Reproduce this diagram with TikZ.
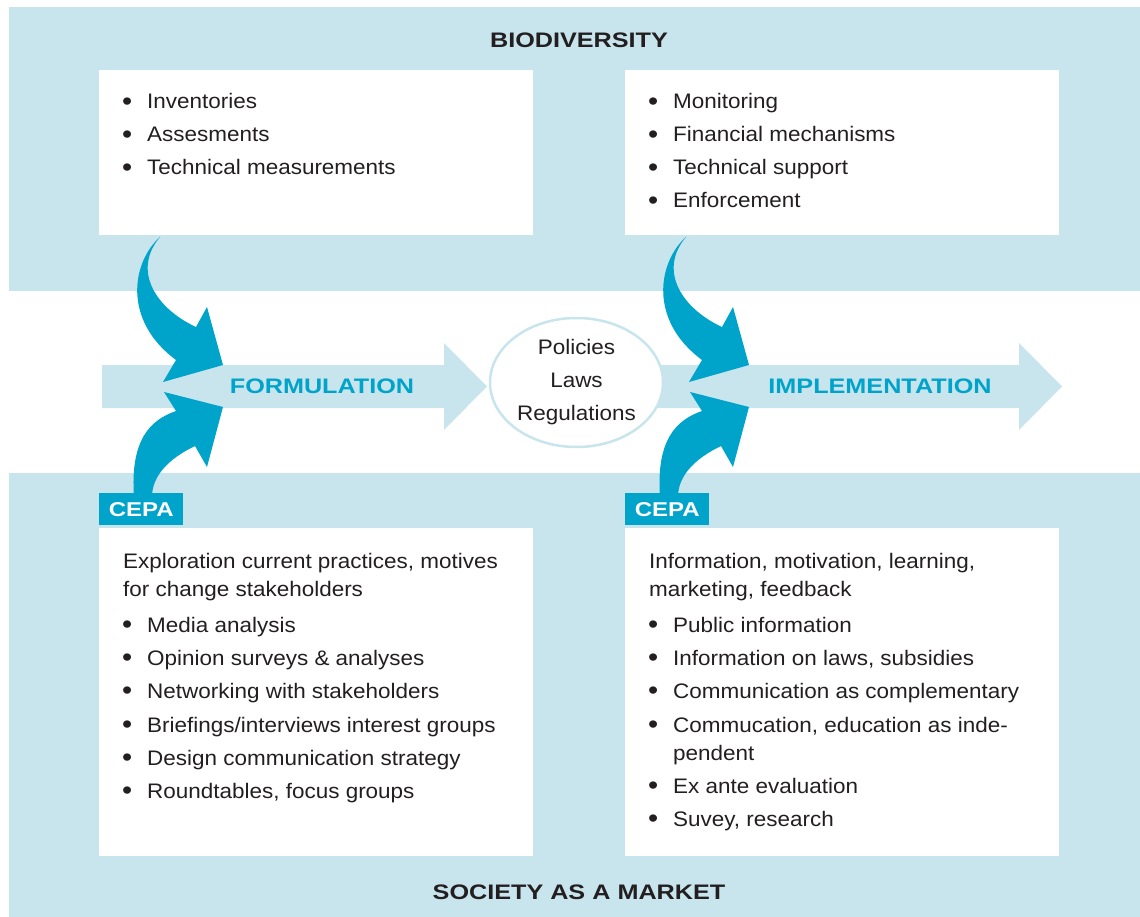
\documentclass[tikz,border=0pt]{standalone}
\usepackage{fontspec}
\setmainfont{Liberation Sans}[FakeStretch=1.07]
\newfontfamily\headfont{Liberation Sans}[FakeStretch=1.2]
\usetikzlibrary{shapes.geometric}
\definecolor{pale}{HTML}{C8E5EE}
\definecolor{cepablue}{HTML}{00A3C9}
\definecolor{ink}{HTML}{231F20}
\newcommand\bodyfont{\fontsize{21}{33}\selectfont}
\newcommand\titlefont{\headfont\bfseries\fontsize{21}{25}\selectfont}
\newcommand\bul{\makebox[25pt][l]{\raisebox{-1.5pt}{\fontsize{27}{33}\selectfont\textbullet}}}
\tikzset{
  item/.style={anchor=base west, inner sep=0, font=\bodyfont, text=ink},
  title/.style={anchor=base, inner sep=0, font=\titlefont, text=ink},
  stage/.style={anchor=base, inner sep=0, font=\titlefont, text=cepablue},
  policy/.style={ellipse, draw=pale, line width=2.5pt, fill=white, minimum width=173pt,
    minimum height=129pt, inner sep=0, align=center, font=\bodyfont, text=ink},
  cepabox/.style={fill=cepablue, anchor=north west, minimum width=84pt, minimum height=32pt,
    inner sep=0, text=white, font=\headfont\bfseries\fontsize{20}{24}\selectfont}
}
\begin{document}
\begin{tikzpicture}[x=1pt,y=-1pt]
\useasboundingbox (0,0) rectangle (1140,917);
% bands and boxes
\fill[pale] (9,7) rectangle (1140,291);
\fill[pale] (9,473) rectangle (1140,917);
\fill[white] (99,70) rectangle (533,235);
\fill[white] (625,70) rectangle (1059,235);
\fill[white] (99,528) rectangle (533,856);
\fill[white] (625,528) rectangle (1059,856);
% flat arrows
\fill[pale] (102,365) -- (444,365) -- (444,343) -- (487,386.5) -- (444,430) -- (444,408) -- (102,408) -- cycle;
\fill[pale] (640,365) -- (1019,365) -- (1019,343) -- (1062,386.5) -- (1019,430) -- (1019,408) -- (640,408) -- cycle;
\node[policy] (plr) at (576.5,382.5) {Policies\\Laws\\Regulations};
\node[stage] (form) at (322,393) {FORMULATION};
\node[stage] (impl) at (880,393) {IMPLEMENTATION};
% curved arrows and CEPA tags
\foreach \dx in {0,526}{
  \begin{scope}[xshift=\dx]
    \fill[cepablue] (160,237) .. controls (132,262) and (122,320) .. (176,360)
      -- (163,382) -- (223,365) -- (207,307) -- (196,327)
      .. controls (155,308) and (132,270) .. (160,237) -- cycle;
    \fill[cepablue] (134,497) .. controls (130,440) and (150,420) .. (176,411)
      -- (164,392) -- (223,407) -- (207,467) -- (195,446)
      .. controls (170,458) and (152,475) .. (152,497) -- cycle;
  \end{scope}
  \node[cepabox] (cepa\dx) at (99+\dx,493) {CEPA};
}
% titles
\node[title] (bio) at (579,48) {BIODIVERSITY};
\node[title] (soc) at (579,899) {SOCIETY AS A MARKET};
% lists
\foreach \y/\t in {109/Inventories, 142/Assesments, 175/Technical measurements}
  \node[item] (inv\y) at (122,\y) {\bul\t};
\foreach \y/\t in {109/Monitoring, 142/Financial mechanisms, 175/Technical support, 208/Enforcement}
  \node[item] (mon\y) at (648,\y) {\bul\t};
\node[item] (expl1) at (123,568) {Exploration current practices, motives};
\node[item] (expl2) at (123,596) {for change stakeholders};
\foreach \y/\t in {632/Media analysis, 665/Opinion surveys \& analyses, 698/Networking with stakeholders,
    732/{Briefings/interviews interest groups}, 765/Design communication strategy,
    798/{Roundtables, focus groups}}
  \node[item] (fl\y) at (122,\y) {\bul\t};
\node[item] (info1) at (649,568) {Information, motivation, learning,};
\node[item] (info2) at (649,596) {marketing, feedback};
\foreach \y/\t in {632/Public information, 665/{Information on laws, subsidies},
    698/Communication as complementary, 732/{Commucation, education as inde-},
    793/Ex ante evaluation, 826/{Suvey, research}}
  \node[item] (il\y) at (648,\y) {\bul\t};
\node[item] (pend) at (673,760) {pendent};
\end{tikzpicture}
\end{document}
